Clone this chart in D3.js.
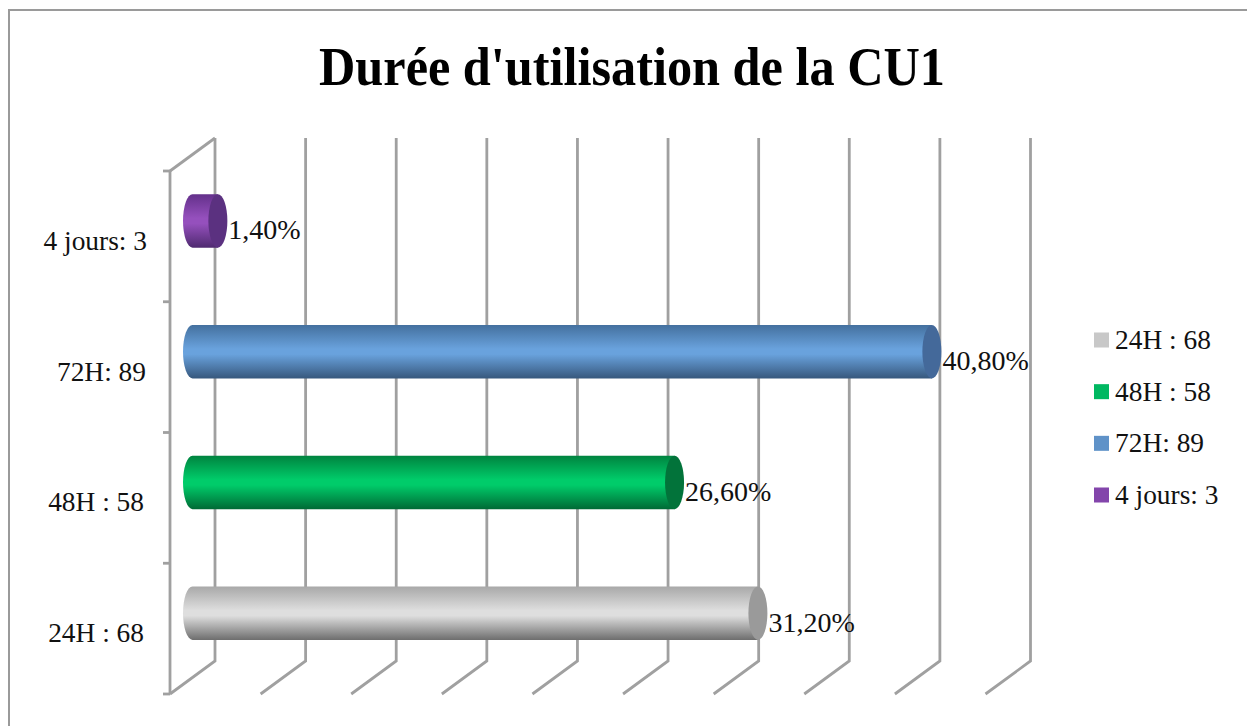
<!DOCTYPE html>
<html><head><meta charset="utf-8">
<script src="https://cdn.jsdelivr.net/npm/d3@7"></script>
<style>html,body{margin:0;padding:0;background:#fff}svg{display:block}text{font-family:"Liberation Serif",serif;fill:#111}</style>
</head><body><svg id="c" width="1247" height="726"></svg>
<script>
const categories=["24H : 68","48H : 58","72H: 89","4 jours: 3"];
const axisLabels=["24H : 68","48H : 58","72H: 89","4 jours: 3"];
const values=[31.2,26.6,40.8,1.4];
const valueLabels=["31,20%","26,60%","40,80%","1,40%"];
const ticks=[0,5,10,15,20,25,30,35,40,45];
const swatch=["#c8c8c8","#00b861","#5f92c8","#8345ab"];
const bodyStops=[
 ["#a8a8a8","#dedede","#6e6e6e"],
 ["#00833f","#00cc6a","#006a35"],
 ["#44709e","#69a2dd","#37587d"],
 ["#63308a","#9550bd","#4f2a70"]];
const capColor=["#9a9a9a","#02733a","#44699a","#5b3180"];

const svg=d3.select("#c");
const plotL=170,plotR=985.5,plotB=694,plotT=171,dx=45,dy=33;
const x=d3.scaleLinear().domain([0,45]).range([plotL,plotR]);
const y=d3.scaleBand().domain(categories).range([plotB,plotT]);

svg.append("path").attr("d","M9,726V10H1247").attr("fill","none").attr("stroke","#9a9a9a").attr("stroke-width",2);
svg.append("text").attr("x",632).attr("y",85).attr("text-anchor","middle").style("fill","#000")
  .attr("font-weight","bold").attr("font-size",54).attr("textLength",626).attr("lengthAdjust","spacingAndGlyphs")
  .text("Durée d'utilisation de la CU1");

const defs=svg.append("defs");
categories.forEach((c,i)=>{
  const g=defs.append("linearGradient").attr("id","b"+i).attr("x1",0).attr("x2",0).attr("y1",0).attr("y2",1);
  const s=bodyStops[i];
  [[0,s[0]],[.45,s[1]],[.55,s[1]],[1,s[2]]].forEach(p=>g.append("stop").attr("offset",p[0]).attr("stop-color",p[1]));
});

const grid=svg.append("g").attr("fill","none").attr("stroke","#a0a0a0").attr("stroke-width",2.8);
ticks.forEach(t=>{
  const X=x(t);
  grid.append("path").attr("d",`M${X},${plotB}L${X+dx},${plotB-dy}V${plotT-dy}`);
});
grid.append("path").attr("d",`M${plotL},${plotT}L${plotL+dx},${plotT-dy}`);
grid.append("path").attr("d",`M${plotL},${plotT}V${plotB}`);
[0,1,2,3,4].forEach(k=>{
  const Y=plotB-k*y.step();
  grid.append("path").attr("d",`M${plotL-7},${Y}H${plotL}`);
});

const barH=53.5,rx=9.5,off=-15.5;
categories.forEach((c,i)=>{
  const cy=y(c)+y.bandwidth()/2+off, x0=x(0)+dx/2, x1=x(values[i])+dx/2;
  const g=svg.append("g");
  g.append("path").attr("fill",`url(#b${i})`)
   .attr("d",`M${x0},${cy-barH/2}H${x1}V${cy+barH/2}H${x0}A${rx},${barH/2} 0 0 1 ${x0},${cy-barH/2}Z`);
  g.append("ellipse").attr("cx",x1).attr("cy",cy).attr("rx",rx).attr("ry",barH/2).attr("fill",capColor[i]);
  svg.append("text").attr("x",x1+rx+1).attr("y",cy+18.5).attr("font-size",28).text(valueLabels[i]);
  svg.append("text").attr("x",c==="72H: 89"?146:c==="4 jours: 3"?147:144).attr("y",cy+29).attr("text-anchor","end").attr("font-size",27.4).text(axisLabels[i]);
});

const ly=d3.scalePoint().domain(categories).range([340,495]);
categories.forEach((c,i)=>{
  svg.append("rect").attr("x",1094).attr("y",ly(c)-7.5).attr("width",15).attr("height",15).attr("fill",swatch[i]);
  svg.append("text").attr("x",1115).attr("y",ly(c)+9).attr("font-size",27.4).text(c);
});
</script></body></html>
